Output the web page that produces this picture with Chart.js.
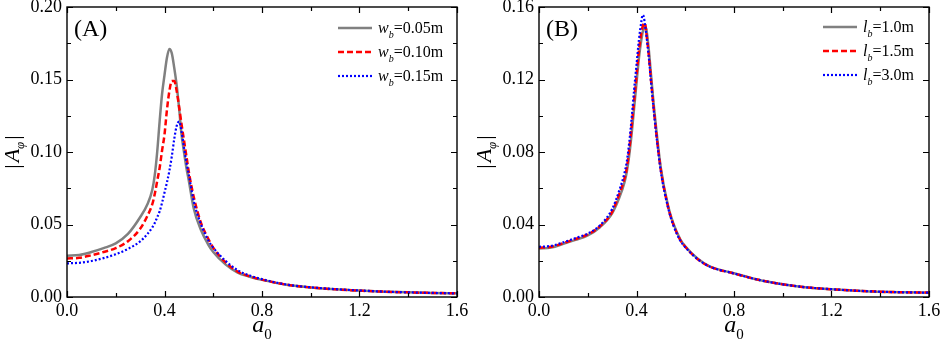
<!DOCTYPE html>
<html><head><meta charset="utf-8">
<script src="https://cdn.jsdelivr.net/npm/chart.js@4/dist/chart.umd.min.js"></script>
<style>
html,body{margin:0;padding:0;background:#fff;overflow:hidden}
#wrap{position:relative;width:941px;height:341px;background:#fff}
.c{position:absolute;top:0;height:341px}
</style></head>
<body><div id="wrap">
<div class="c" style="left:0;width:470px"><canvas id="cA" width="470" height="341"></canvas></div>
<div class="c" style="left:470px;width:471px"><canvas id="cB" width="471" height="341"></canvas></div>
</div>
<script>
// ---------- Data: panel A (bar width w_b) ----------
const A0_A = [0, 0.05, 0.1, 0.15, 0.2, 0.25, 0.3, 0.33, 0.35, 0.36, 0.37, 0.38, 0.39, 0.40, 0.41, 0.42, 0.43, 0.44, 0.45, 0.46, 0.47, 0.48, 0.49, 0.50, 0.52, 0.55, 0.58, 0.6, 0.65, 0.7, 0.75, 0.8, 0.9, 1.0, 1.1, 1.2, 1.3, 1.4, 1.5, 1.6];
const W005 = [0.0285, 0.0290, 0.0310, 0.0337, 0.0370, 0.0435, 0.055, 0.064, 0.074, 0.084, 0.100, 0.121, 0.140, 0.153, 0.165, 0.171, 0.168, 0.158, 0.146, 0.130, 0.112, 0.100, 0.089, 0.080, 0.061, 0.046, 0.036, 0.031, 0.0225, 0.0168, 0.0140, 0.0118, 0.0084, 0.0066, 0.0053, 0.0044, 0.0037, 0.0032, 0.0028, 0.0025];
const W010 = [0.0266, 0.0270, 0.0288, 0.0310, 0.0337, 0.0385, 0.0470, 0.0560, 0.064, 0.071, 0.080, 0.089, 0.101, 0.112, 0.129, 0.142, 0.149, 0.149, 0.142, 0.131, 0.119, 0.108, 0.097, 0.086, 0.069, 0.051, 0.040, 0.034, 0.024, 0.0175, 0.0142, 0.0120, 0.0085, 0.0066, 0.0053, 0.0044, 0.0037, 0.0032, 0.0028, 0.0025];
const W015 = [0.0232, 0.0236, 0.0248, 0.0268, 0.0295, 0.0332, 0.0383, 0.0435, 0.048, 0.051, 0.055, 0.059, 0.065, 0.072, 0.079, 0.087, 0.097, 0.109, 0.118, 0.121, 0.114, 0.103, 0.093, 0.084, 0.066, 0.050, 0.039, 0.034, 0.025, 0.0185, 0.0148, 0.0123, 0.0086, 0.0067, 0.0054, 0.0045, 0.0037, 0.0032, 0.0028, 0.0025];
const LABELS_A = [['w','b','=0.05m'], ['w','b','=0.10m'], ['w','b','=0.15m']];
const YTICKS_A = {min: 0, max: 0.20, step: 0.05, minor: [0.025, 0.075, 0.125, 0.175]};

// ---------- Data: panel B (bar length l_b) ----------
const A0_B = [0, 0.05, 0.1, 0.15, 0.2, 0.25, 0.3, 0.33, 0.35, 0.36, 0.37, 0.38, 0.39, 0.40, 0.41, 0.42, 0.425, 0.43, 0.435, 0.44, 0.45, 0.46, 0.47, 0.48, 0.50, 0.53, 0.55, 0.58, 0.6, 0.65, 0.7, 0.8, 0.9, 1.0, 1.1, 1.2, 1.3, 1.4, 1.5, 1.6];
const L10 = [0.0268, 0.0273, 0.0293, 0.0315, 0.0340, 0.0385, 0.0462, 0.055, 0.063, 0.069, 0.078, 0.090, 0.104, 0.118, 0.132, 0.142, 0.146, 0.148, 0.149, 0.148, 0.137, 0.122, 0.107, 0.094, 0.071, 0.050, 0.041, 0.0317, 0.0280, 0.0212, 0.0169, 0.0131, 0.0095, 0.0070, 0.0053, 0.0043, 0.0035, 0.0029, 0.0026, 0.0024];
const L15 = [0.0272, 0.0277, 0.0297, 0.0320, 0.0345, 0.0390, 0.0470, 0.057, 0.065, 0.071, 0.081, 0.094, 0.108, 0.122, 0.136, 0.146, 0.149, 0.151, 0.151, 0.146, 0.134, 0.119, 0.105, 0.092, 0.070, 0.0495, 0.0405, 0.0313, 0.0277, 0.0210, 0.0168, 0.0130, 0.0095, 0.0070, 0.0053, 0.0043, 0.0035, 0.0029, 0.0026, 0.0024];
const L30 = [0.0277, 0.0282, 0.0302, 0.0325, 0.0350, 0.0395, 0.0485, 0.059, 0.068, 0.0745, 0.085, 0.0985, 0.114, 0.128, 0.142, 0.152, 0.1556, 0.1545, 0.150, 0.145, 0.133, 0.118, 0.104, 0.091, 0.069, 0.049, 0.040, 0.031, 0.0275, 0.0210, 0.0168, 0.0130, 0.0095, 0.0070, 0.0053, 0.0043, 0.0035, 0.0029, 0.0026, 0.0024];
const LABELS_B = [['l','b','=1.0m'], ['l','b','=1.5m'], ['l','b','=3.0m']];
const YTICKS_B = {min: 0, max: 0.16, step: 0.04, minor: [0.02, 0.06, 0.10, 0.14]};

const XTICKS = {min: 0, max: 1.6, step: 0.4, minor: [0.2, 0.6, 1.0, 1.4]};

// ---------- Styles ----------
const SERIF = 'Liberation Serif';
const STYLES = [
  {color: 'rgb(128,128,128)', width: 2.5, dash: []},
  {color: 'rgb(255,0,0)', width: 2.5, dash: [6, 3]},
  {color: 'rgb(0,0,255)', width: 2.2, dash: [2, 2]}
];

function pairs(xs, ys) { return xs.map((x, i) => ({x: x, y: ys[i]})); }

function drawRich(ctx, parts, x, y, size) {
  ctx.textBaseline = 'alphabetic';
  ctx.textAlign = 'left';
  ctx.font = 'italic ' + size + 'px ' + SERIF;
  ctx.fillText(parts[0], x, y);
  x += ctx.measureText(parts[0]).width;
  const sub = Math.round(size * 0.62);
  ctx.font = 'italic ' + sub + 'px ' + SERIF;
  ctx.fillText(parts[1], x, y + size * 0.3);
  x += ctx.measureText(parts[1]).width;
  ctx.font = size + 'px ' + SERIF;
  ctx.fillText(parts[2], x, y);
}

function makePlugin(opt) {
  return {
    id: 'deco',
    afterDraw(chart) {
      const ctx = chart.ctx, a = chart.chartArea;
      const xs = chart.scales.x, ys = chart.scales.y;
      ctx.save();
      ctx.strokeStyle = '#000';
      ctx.lineWidth = 1.4;
      ctx.strokeRect(a.left, a.top, a.right - a.left, a.bottom - a.top);
      ctx.lineWidth = 1.2;
      ctx.beginPath();
      const maj = 6, mnr = 4;
      xs.ticks.forEach(t => {
        const p = Math.round(xs.getPixelForValue(t.value)) + 0.5;
        ctx.moveTo(p, a.bottom); ctx.lineTo(p, a.bottom - maj);
        ctx.moveTo(p, a.top); ctx.lineTo(p, a.top + maj);
      });
      XTICKS.minor.forEach(v => {
        const p = Math.round(xs.getPixelForValue(v)) + 0.5;
        ctx.moveTo(p, a.bottom); ctx.lineTo(p, a.bottom - mnr);
        ctx.moveTo(p, a.top); ctx.lineTo(p, a.top + mnr);
      });
      ys.ticks.forEach(t => {
        const p = Math.round(ys.getPixelForValue(t.value)) + 0.5;
        ctx.moveTo(a.left, p); ctx.lineTo(a.left + maj, p);
        ctx.moveTo(a.right, p); ctx.lineTo(a.right - maj, p);
      });
      opt.yt.minor.forEach(v => {
        const p = Math.round(ys.getPixelForValue(v)) + 0.5;
        ctx.moveTo(a.left, p); ctx.lineTo(a.left + mnr, p);
        ctx.moveTo(a.right, p); ctx.lineTo(a.right - mnr, p);
      });
      ctx.stroke();

      ctx.fillStyle = '#000';
      ctx.font = '24px ' + SERIF;
      ctx.textAlign = 'left';
      ctx.textBaseline = 'alphabetic';
      ctx.fillText(opt.panel, a.left + 7, a.top + 29);

      // x title a0
      const cx = (a.left + a.right) / 2;
      ctx.font = 'italic 24px ' + SERIF;
      const wa = ctx.measureText('a').width;
      ctx.font = '15px ' + SERIF;
      const w0 = ctx.measureText('0').width;
      let x0 = cx - (wa + w0) / 2;
      ctx.font = 'italic 24px ' + SERIF;
      ctx.fillText('a', x0, 332);
      ctx.font = '15px ' + SERIF;
      ctx.fillText('0', x0 + wa, 339);

      // y title |A_phi|
      ctx.save();
      ctx.translate(opt.ytx, (a.top + a.bottom) / 2);
      ctx.rotate(-Math.PI / 2);
      ctx.font = '22px ' + SERIF;
      const wbar = ctx.measureText('|').width;
      ctx.font = 'italic 22px ' + SERIF;
      const wA = ctx.measureText('A').width;
      ctx.font = 'italic 13px ' + SERIF;
      const wp = ctx.measureText('φ').width;
      const tot = wbar * 2 + wA + wp + 4;
      let xx = -tot / 2;
      const by = 7;
      ctx.font = '22px ' + SERIF; ctx.fillText('|', xx, by); xx += wbar + 2;
      ctx.font = 'italic 22px ' + SERIF; ctx.fillText('A', xx, by); xx += wA;
      ctx.font = 'italic 13px ' + SERIF; ctx.fillText('φ', xx, by + 5); xx += wp + 2;
      ctx.font = '22px ' + SERIF; ctx.fillText('|', xx, by);
      ctx.restore();

      // legend
      opt.labels.forEach((parts, i) => {
        const s = STYLES[i];
        const y = opt.legY + i * 24;
        ctx.save();
        ctx.strokeStyle = s.color;
        ctx.lineWidth = s.width;
        ctx.setLineDash(s.dash);
        ctx.beginPath();
        ctx.moveTo(opt.legX, y);
        ctx.lineTo(opt.legX + 34, y);
        ctx.stroke();
        ctx.restore();
        ctx.fillStyle = '#000';
        drawRich(ctx, parts, opt.legX + 40, y + 5, 16);
      });
      ctx.restore();
    }
  };
}

function makeChart(id, xv, series, yt, opt) {
  const datasets = series.map((ys, i) => ({
    data: pairs(xv, ys),
    borderColor: STYLES[i].color,
    borderWidth: STYLES[i].width,
    borderDash: STYLES[i].dash,
    pointRadius: 0,
    fill: false,
    cubicInterpolationMode: 'monotone',
    order: 3 - i
  }));
  return new Chart(document.getElementById(id), {
    type: 'line',
    data: {datasets: datasets},
    options: {
      responsive: false,
      animation: false,
      devicePixelRatio: 1,
      layout: {padding: {top: 7, right: opt.padRight, left: 0, bottom: 0}},
      plugins: {legend: {display: false}, tooltip: {enabled: false}},
      scales: {
        x: {
          type: 'linear', min: XTICKS.min, max: XTICKS.max,
          grid: {display: false, drawTicks: false},
          border: {display: false},
          ticks: {stepSize: XTICKS.step, padding: 3, color: '#000', maxRotation: 0,
                  font: {family: SERIF, size: 18},
                  callback: v => v.toFixed(1)},
          afterFit: s => { s.height = 44; s.paddingLeft = 0; s.paddingRight = 0; }
        },
        y: {
          type: 'linear', min: yt.min, max: yt.max,
          grid: {display: false, drawTicks: false},
          border: {display: false},
          ticks: {stepSize: yt.step, padding: 5, color: '#000',
                  font: {family: SERIF, size: 18},
                  callback: v => v.toFixed(2)},
          afterFit: s => { s.width = opt.yWidth; s.paddingTop = 0; s.paddingBottom = 0; }
        }
      }
    },
    plugins: [makePlugin(Object.assign({yt: yt}, opt))]
  });
}

makeChart('cA', A0_A, [W005, W010, W015], YTICKS_A,
  {panel: '(A)', labels: LABELS_A, legX: 338, legY: 28, ytx: 12, yWidth: 67, padRight: 13});
makeChart('cB', A0_B, [L10, L15, L30], YTICKS_B,
  {panel: '(B)', labels: LABELS_B, legX: 353, legY: 27, ytx: 14, yWidth: 69, padRight: 12});
</script>
</body></html>
